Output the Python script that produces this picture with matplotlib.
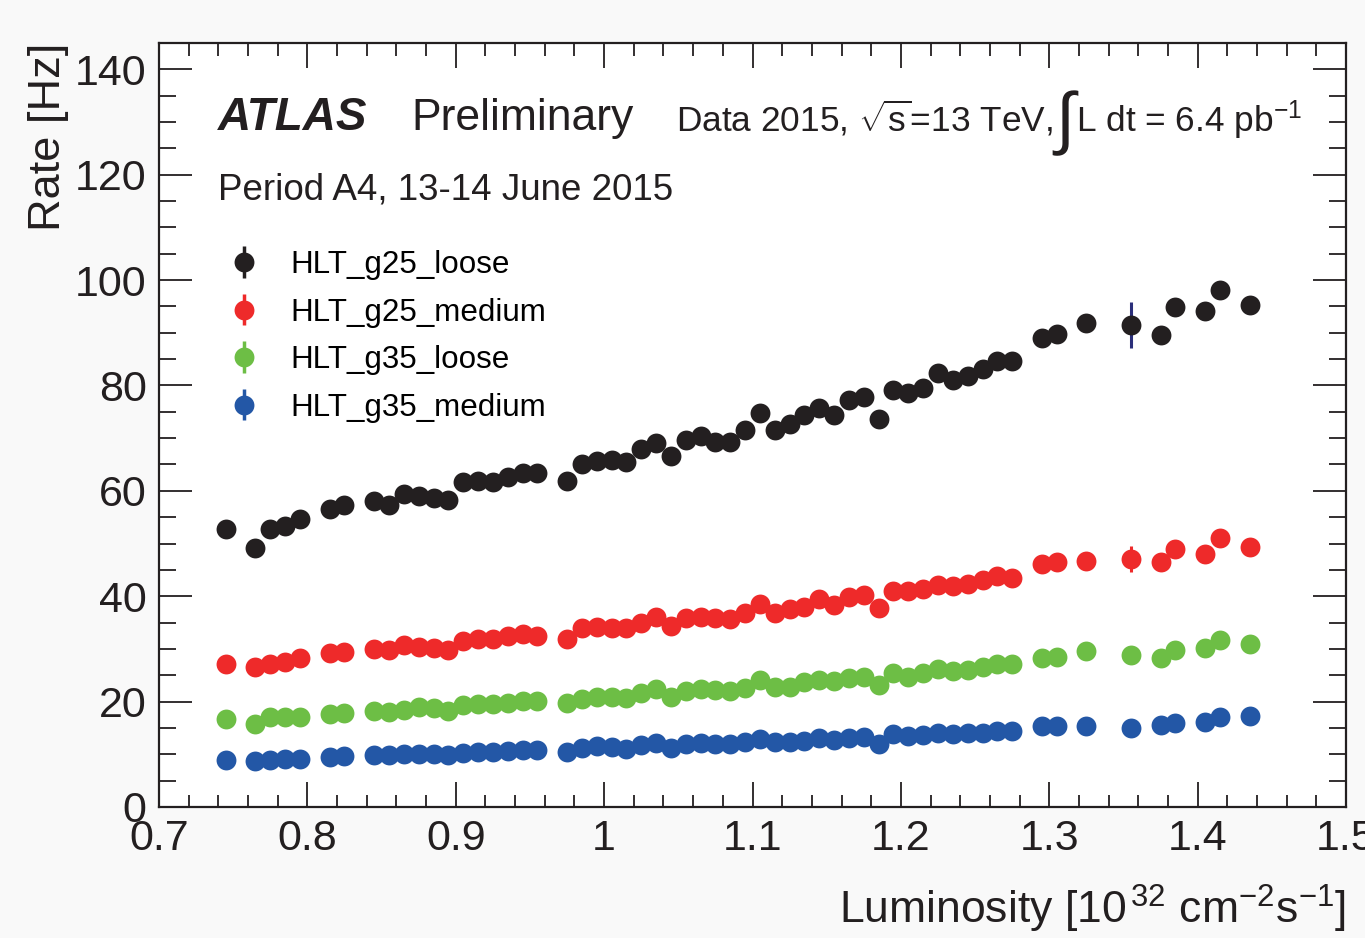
import numpy as np
import matplotlib
matplotlib.use("Agg")
import matplotlib.pyplot as plt
from matplotlib.ticker import MultipleLocator

plt.rcParams['font.family'] = ['Liberation Sans', 'DejaVu Sans']
plt.rcParams['mathtext.fontset'] = 'custom'
plt.rcParams['mathtext.rm'] = 'Liberation Sans'
plt.rcParams['mathtext.it'] = 'Liberation Sans:italic'
plt.rcParams['mathtext.bf'] = 'Liberation Sans:bold'

# ---------------- data ----------------
lumi = [0.745, 0.765, 0.775, 0.785, 0.795, 0.815, 0.825,
        0.845, 0.855, 0.865, 0.875, 0.885, 0.895, 0.905, 0.915, 0.925, 0.935, 0.945, 0.955,
        0.975, 0.985, 0.995, 1.005, 1.015, 1.025, 1.035, 1.045, 1.055, 1.065, 1.075, 1.085,
        1.095, 1.105, 1.115, 1.125, 1.135, 1.145, 1.155, 1.165, 1.175, 1.185, 1.195, 1.205,
        1.215, 1.225, 1.235, 1.245, 1.255, 1.265, 1.275,
        1.295, 1.305, 1.325, 1.355, 1.375, 1.385, 1.405, 1.415, 1.435]

g25_loose = [52.7, 49.1, 52.7, 53.4, 54.7, 56.5, 57.3,
             58.1, 57.4, 59.4, 59.0, 58.6, 58.3, 61.6, 61.8, 61.6, 62.7, 63.3, 63.3,
             61.9, 65.1, 65.6, 65.8, 65.4, 68.0, 69.1, 66.6, 69.7, 70.4, 69.3, 69.3,
             71.6, 74.7, 71.5, 72.6, 74.4, 75.8, 74.4, 77.2, 77.8, 73.7, 79.2, 78.5,
             79.6, 82.3, 81.0, 81.8, 83.2, 84.7, 84.7,
             89.0, 89.7, 91.9, 91.5, 89.6, 94.8, 94.2, 98.2, 95.3]

g25_medium = [27.1, 26.6, 27.1, 27.6, 28.2, 29.2, 29.5,
              29.9, 29.7, 30.7, 30.4, 30.2, 29.8, 31.5, 31.8, 31.8, 32.5, 32.8, 32.5,
              31.8, 33.9, 34.1, 33.9, 33.9, 35.0, 36.0, 34.4, 35.8, 36.1, 35.8, 35.6,
              36.9, 38.6, 36.9, 37.5, 38.0, 39.4, 38.4, 39.8, 40.3, 37.7, 41.0, 40.9,
              41.3, 42.2, 42.0, 42.4, 43.0, 43.9, 43.4,
              46.2, 46.5, 46.6, 47.0, 46.4, 49.0, 48.0, 51.0, 49.4]

g35_loose = [16.7, 15.8, 17.0, 17.1, 17.1, 17.6, 17.9,
             18.2, 18.0, 18.4, 18.9, 18.7, 18.2, 19.3, 19.5, 19.5, 19.8, 20.1, 20.1,
             19.8, 20.5, 20.9, 20.8, 20.6, 21.6, 22.3, 20.9, 22.0, 22.3, 22.2, 22.0,
             22.6, 24.1, 22.8, 22.8, 23.8, 24.1, 24.0, 24.4, 24.7, 23.1, 25.5, 24.7,
             25.5, 26.2, 25.8, 26.0, 26.5, 27.2, 27.1,
             28.2, 28.5, 29.6, 28.8, 28.3, 29.7, 30.1, 31.6, 30.9]

g35_medium = [8.9, 8.8, 8.9, 9.1, 9.1, 9.4, 9.6,
              9.8, 9.8, 10.0, 10.0, 10.0, 9.8, 10.3, 10.5, 10.5, 10.6, 10.8, 10.8,
              10.5, 11.2, 11.5, 11.3, 11.0, 11.8, 12.1, 11.2, 12.0, 12.1, 12.0, 12.0,
              12.3, 12.9, 12.3, 12.3, 12.6, 13.0, 12.7, 13.0, 13.2, 12.0, 13.8, 13.5,
              13.7, 14.1, 13.8, 14.0, 14.1, 14.5, 14.5,
              15.3, 15.4, 15.4, 15.0, 15.5, 15.9, 16.1, 17.1, 17.2]

# statistical errors (only visible beyond the marker at one point)
err_g25_loose = [0.0] * 53 + [4.3] + [0.0] * 5
err_g25_medium = [0.0] * 53 + [2.5] + [0.0] * 5
err_g35_loose = [0.0] * 59
err_g35_medium = [0.0] * 59

labels = ["HLT_g25_loose", "HLT_g25_medium", "HLT_g35_loose", "HLT_g35_medium"]
colors = ["#231f20", "#ee2a2a", "#6dbe45", "#2357a6"]
ecolors = ["#2b2f7a", "#ee2a2a", "#6dbe45", "#2357a6"]

# ---------------- figure ----------------
fig = plt.figure(figsize=(13.65, 9.38), dpi=100, facecolor="#f9f9f9")
ax = fig.add_axes([0.1165, 0.1397, 0.8696, 0.8145])
ax.set_facecolor("white")

series = [g25_loose, g25_medium, g35_loose, g35_medium]
errs = [err_g25_loose, err_g25_medium, err_g35_loose, err_g35_medium]
x = np.array(lumi)
for ys, es, c, ec in zip(series, errs, colors, ecolors):
    ax.errorbar(x, ys, yerr=es, fmt='o', color=c, ecolor=ec, ms=14.3,
                mec='none', elinewidth=2.2, capsize=0, zorder=3)

# legend proxies
handles = []
for c, lab in zip(colors, labels):
    h = ax.errorbar([np.nan], [np.nan], yerr=[1.0], fmt='o', color=c, ms=14.3,
                    mec='none', elinewidth=2.5, capsize=0, label=lab)
    handles.append(h)
leg = ax.legend(handles=handles, loc='upper left', bbox_to_anchor=(0.058, 0.729),
                frameon=False, fontsize=22.6, handlelength=1.0, handletextpad=1.0,
                labelspacing=0.56, borderpad=0, borderaxespad=0)

ax.set_xlim(0.7, 1.5)
ax.set_ylim(0, 145)
ax.xaxis.set_minor_locator(MultipleLocator(0.02))
ax.yaxis.set_major_locator(MultipleLocator(20))
ax.yaxis.set_minor_locator(MultipleLocator(5))
ax.set_xticks(np.arange(0.7, 1.51, 0.1))
ax.set_xticklabels(["0.7", "0.8", "0.9", "1", "1.1", "1.2", "1.3", "1.4", "1.5"])

ax.tick_params(which='both', direction='in', top=True, right=True, width=1.3,
               labelsize=31, colors='#231f20')
ax.tick_params(which='major', axis='y', length=24, pad=9)
ax.tick_params(which='minor', axis='y', length=12)
ax.tick_params(which='major', axis='x', length=18, pad=9)
ax.tick_params(which='minor', axis='x', length=9)
for s in ax.spines.values():
    s.set_linewidth(1.6)
    s.set_color('#231f20')

ax.set_ylabel("Rate [Hz]", fontsize=32.5, loc='top', labelpad=4, color='#231f20')
ax.set_xlabel(r"Luminosity [10$^{\,32}$ cm$^{-2}$s$^{-1}$]", fontsize=32, loc='right',
              labelpad=17, color='#231f20')

ax.text(0.0497, 0.886, "ATLAS", transform=ax.transAxes, fontsize=33,
        fontweight='bold', style='italic', color='#231f20')
ax.text(0.2123, 0.886, "Preliminary", transform=ax.transAxes, fontsize=32,
        color='#231f20')
t1 = ax.text(0.4355, 0.884, r"Data 2015, $\sqrt{\mathrm{s}}$=13 TeV,",
             transform=ax.transAxes, fontsize=25.4, color='#231f20')
t2 = ax.annotate("\u222b", xy=(1, 0.884), xycoords=(t1, 'axes fraction'),
                 xytext=(2, -7), textcoords='offset points', fontsize=50,
                 va='baseline', ha='left', color='#231f20')
t3 = ax.annotate(r"L dt = 6.4 pb$^{-1}$", xy=(1, 0.884), xycoords=(t2, 'axes fraction'),
                 xytext=(1, 0), textcoords='offset points', fontsize=25.4,
                 va='baseline', ha='left', color='#231f20')
ax.text(0.0497, 0.7945, "Period A4, 13-14 June 2015", transform=ax.transAxes,
        fontsize=26.5, color='#231f20')

fig.savefig("out.png", dpi=100, facecolor=fig.get_facecolor())
